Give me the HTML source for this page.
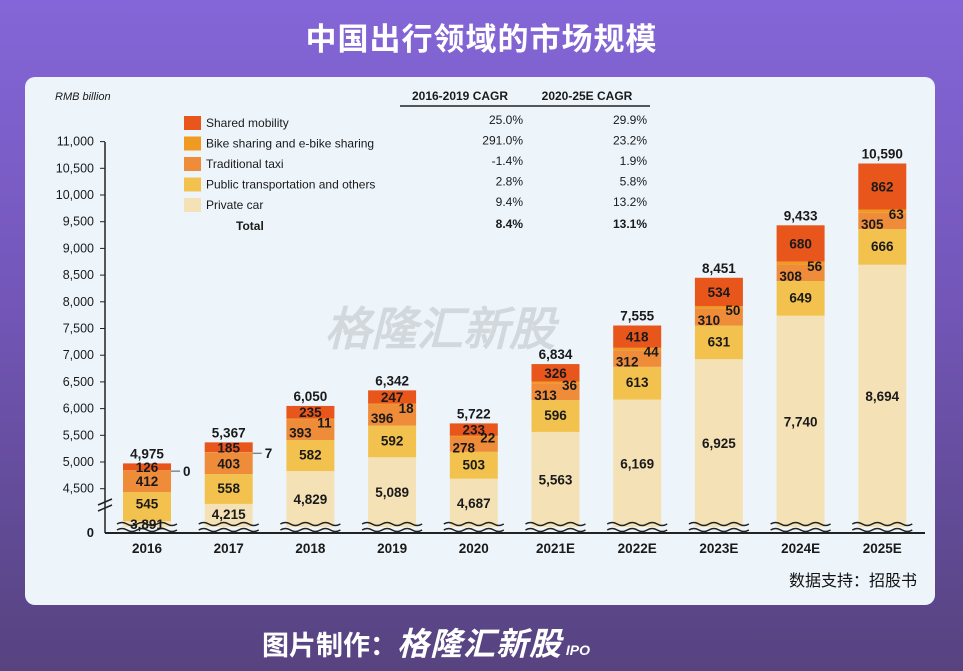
<!DOCTYPE html>
<html><head><meta charset="utf-8">
<style>
html,body{margin:0;padding:0;width:963px;height:671px;overflow:hidden;}
body{background:linear-gradient(180deg,#8466d8 0%,#7356b8 45%,#56437f 100%);font-family:"Liberation Sans","Noto Sans CJK SC",sans-serif;position:relative;}
#title{position:absolute;top:14px;left:0;width:963px;text-align:center;color:#fff;font-size:31px;font-weight:bold;letter-spacing:1px;}
#card{position:absolute;left:25px;top:77px;width:910px;height:528px;background:#edf5fb;border-radius:10px;}
#footer{position:absolute;top:619px;left:262px;color:#fff;font-size:27px;font-weight:bold;}
#footer i{font-size:32px;letter-spacing:1px;}
svg{position:absolute;left:0;top:0;}
</style></head><body>
<div id="title">中国出行领域的市场规模</div>
<div id="card"></div>
<div id="footer">图片制作：<i>格隆汇新股</i><span style="font-size:14px;font-style:italic;color:#fff"> IPO</span></div>
<svg id="chart" width="963" height="671"></svg>
<script>
const years=["2016","2017","2018","2019","2020","2021E","2022E","2023E","2024E","2025E"];
const privateCar=[3891,4215,4829,5089,4687,5563,6169,6925,7740,8694];
const publicTrans=[545,558,582,592,503,596,613,631,649,666];
const taxi=[412,403,393,396,278,313,312,310,308,305];
const bike=[0,7,11,18,22,36,44,50,56,63];
const shared=[126,185,235,247,233,326,418,534,680,862];
const totals=[4975,5367,6050,6342,5722,6834,7555,8451,9433,10590];
const yTicks=[4500,5000,5500,6000,6500,7000,7500,8000,8500,9000,9500,10000,10500,11000];
const legendNames=["Shared mobility","Bike sharing and e-bike sharing","Traditional taxi","Public transportation and others","Private car"];
const cagr1=["25.0%","291.0%","-1.4%","2.8%","9.4%"];
const cagr2=["29.9%","23.2%","1.9%","5.8%","13.2%"];
const colors=["#e8561c","#f09a22","#ef8c3a","#f3c24e","#f4e2b6"];
const NS="http://www.w3.org/2000/svg";
const svg=document.getElementById('chart');
function y(v){return 462-(v-5000)*0.0534;}
function x(i){return 147+i*81.7;}
const base=527;
function el(t,a,p){const e=document.createElementNS(NS,t);for(const k in a)e.setAttribute(k,a[k]);(p||svg).appendChild(e);return e;}
function txt(s,xx,yy,o){o=o||{};const e=el('text',{x:xx,y:yy,'font-size':o.fs||13.5,'font-weight':o.fw||'bold','text-anchor':o.a||'middle',fill:o.c||'#1a1a1a','font-family':'Liberation Sans, sans-serif','font-style':o.it||'normal'});e.textContent=s;return e;}
let w=txt("格隆汇新股",440,345,{fs:46,c:"#c9ccd0",it:"italic"});
w.setAttribute('opacity','0.7');
let ax=el('line',{x1:105,y1:533,x2:925,y2:533,stroke:'#222','stroke-width':2});

let ay=el('line',{x1:105,y1:142,x2:105,y2:533,stroke:'#222','stroke-width':1.5});

yTicks.forEach(v=>{const yy=y(v);el('line',{x1:100,y1:yy,x2:105,y2:yy,stroke:'#222'});
const t=txt(v.toLocaleString('en-US'),94,yy+4,{fw:'normal',a:'end',fs:12.5});
});
let z=txt("0",94,537,{fw:'bold',a:'end',fs:13});
el('path',{d:'M98 505 L112 499 M98 511 L112 505',stroke:'#222','stroke-width':1.5,fill:'none'});
let u=txt("RMB billion",55,100,{fw:'normal',a:'start',fs:11,it:'italic'});
const series=[privateCar,publicTrans,taxi,bike,shared];
const segCols=[colors[4],colors[3],colors[2],colors[1],colors[0]];
years.forEach((yr,i)=>{
 const cx=x(i),bw=48;let cum=privateCar[i];
 const g=el('g',{});
 let tops=[];let bots=[];
 series.forEach((s,k)=>{
  const v0=k==0?0:cum, v1=k==0?privateCar[i]:cum+s[i];
  if(k>0)cum=v1;
  const yt=y(v1),yb=k==0?base:y(v0);
  tops.push(yt);bots.push(yb);
  const r=el('rect',{x:cx-bw/2,y:yt,width:bw,height:Math.max(0,yb-yt),fill:segCols[k]},g);
  
 });
 el('path',{d:`M${cx-30} 524 q5 -3 10 0 t10 0 t10 0 t10 0 t10 0 t10 0 M${cx-30} 530 q5 -3 10 0 t10 0 t10 0 t10 0 t10 0 t10 0`,stroke:'#222','stroke-width':1.5,fill:'none'},g);
 const pcy=i<2?(i==0?529:519):(tops[0]+base)/2+5;
 txt(privateCar[i].toLocaleString('en-US'),cx,pcy,{},g);
 txt(publicTrans[i],cx,(tops[1]+bots[1])/2+(i==0?2:4),{},g);
 if(i<2){txt(taxi[i],cx,(tops[2]+bots[2])/2+5,{},g);
  txt(bike[i],cx+36,tops[3]+6,{a:'start'},g);el('line',{x1:cx+24,y1:tops[3]+1,x2:cx+33,y2:tops[3]+1,stroke:'#555'},g);}
 else{txt(taxi[i],cx-10,(tops[2]+bots[2])/2+8,{},g);txt(bike[i],cx+14,(tops[2]+bots[2])/2-2,{},g);}
 txt(shared[i],cx,(tops[4]+bots[4])/2+5,{},g);
 txt(totals[i].toLocaleString('en-US'),cx,tops[4]-5,{},g);
 txt(yr,cx,553,{},g);
});
const lg=el('g',{});
txt("2016-2019 CAGR",460,100,{fs:12,a:'middle'},lg);txt("2020-25E CAGR",587,100,{fs:12,a:'middle'},lg);
el('line',{x1:400,y1:106,x2:650,y2:106,stroke:'#222','stroke-width':1.5},lg);
legendNames.forEach((n,k)=>{const yy=123+k*20.5;
 const e=el('g',{},lg);
 el('rect',{x:184,y:yy-7,width:17,height:14,fill:colors[k]},e);
 txt(n,206,yy+4,{fw:'normal',a:'start',fs:12},e);
 txt(cagr1[k],523,yy+1,{fw:'normal',a:'end',fs:12},e);txt(cagr2[k],647,yy+1,{fw:'normal',a:'end',fs:12},e);
});
txt("Total",236,230,{a:'start',fs:12},lg);txt("8.4%",523,228,{a:'end',fs:12},lg);txt("13.1%",647,228,{a:'end',fs:12},lg);
let src=el('text',{x:917,y:586,'font-size':16,'text-anchor':'end',fill:'#111','font-family':'Liberation Sans, Noto Sans CJK SC, sans-serif'});src.textContent="数据支持：招股书";

</script>
</body></html>
